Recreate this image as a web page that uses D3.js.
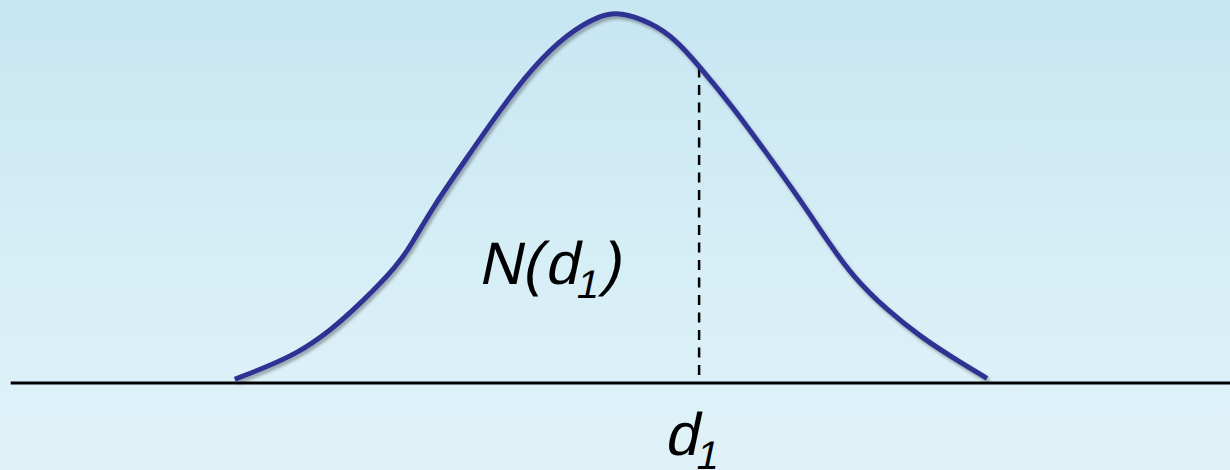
<!DOCTYPE html>
<html>
<head>
<meta charset="utf-8">
<script src="https://cdn.jsdelivr.net/npm/d3@7"></script>
<style>
	body { margin: 0; overflow: hidden; }
	svg { display: block; }
</style>
</head>
<body>
<svg id="chart"></svg>
<script>
var svg_width = 1230, svg_height = 470;

// bell curve (z units, density)
var zValues = [-3.01, -2.78, -2.51, -2.25, -1.99, -1.71, -1.59, -1.43, -1.15, -0.89,
	-0.63, -0.36, -0.09, 0.07, 0.31, 0.51, 0.71, 0.97, 1.24, 1.51,
	1.74, 1.93, 2.20, 2.47, 2.73, 3.00];
var density = [0.003, 0.015, 0.031, 0.055, 0.087, 0.126, 0.151, 0.189, 0.244, 0.295,
	0.341, 0.377, 0.398, 0.401, 0.390, 0.372, 0.341, 0.298, 0.248, 0.197,
	0.150, 0.114, 0.078, 0.049, 0.026, 0.004];

// the marked point on the axis
var d1Value = [0.70];
var d1Density = [0.341];

// extent of the horizontal axis line
var axisExtent = [-4.80, 4.95];

var curveLabel = ["N", "(", "d", "1", ")"];
var axisLabel = ["d", "1"];

var x = d3.scaleLinear().domain([-3, 3]).range([236, 987]);
var y = d3.scaleLinear().domain([0, 0.4]).range([382, 13]);

var font = "'Liberation Sans', Arial, Helvetica, sans-serif";

var svg = d3.select("#chart")
	.attr("width", svg_width)
	.attr("height", svg_height);

var defs = svg.append("defs");

var grad = defs.append("linearGradient")
	.attr("id", "bg")
	.attr("x1", 0).attr("y1", 0)
	.attr("x2", 0).attr("y2", 1);
grad.append("stop").attr("offset", "0%").attr("stop-color", "#c7e6f2");
grad.append("stop").attr("offset", "55%").attr("stop-color", "#d6eef6");
grad.append("stop").attr("offset", "100%").attr("stop-color", "#e0f2f8");

var shadow = defs.append("filter")
	.attr("id", "shadow")
	.attr("x", "-5%").attr("y", "-5%")
	.attr("width", "110%").attr("height", "110%");
shadow.append("feDropShadow")
	.attr("dx", 2).attr("dy", 3)
	.attr("stdDeviation", 1.5)
	.attr("flood-color", "#000")
	.attr("flood-opacity", 0.3);

svg.append("rect")
	.attr("width", svg_width)
	.attr("height", svg_height)
	.attr("fill", "url(#bg)");

// horizontal axis
svg.append("line")
	.attr("x1", x(axisExtent[0]))
	.attr("x2", x(axisExtent[1]))
	.attr("y1", y(0) + 1)
	.attr("y2", y(0) + 1)
	.attr("stroke", "#000")
	.attr("stroke-width", 3);

// dashed marker at d1
svg.append("line")
	.attr("x1", x(d1Value[0]))
	.attr("x2", x(d1Value[0]))
	.attr("y1", y(d1Density[0]))
	.attr("y2", y(0))
	.attr("stroke", "#000")
	.attr("stroke-width", 2.5)
	.attr("stroke-dasharray", "10,7.5");

var data = zValues.map(function (z, i) { return { z: z, p: density[i] }; });

var line = d3.line()
	.x(function (d) { return x(d.z); })
	.y(function (d) { return y(d.p); })
	.curve(d3.curveBasis);

svg.append("path")
	.datum(data)
	.attr("fill", "none")
	.attr("stroke", "#2e3192")
	.attr("stroke-width", 5)
	.attr("stroke-linejoin", "round")
	.attr("filter", "url(#shadow)")
	.attr("d", line);

// labels are regular glyphs slanted by hand, like Helvetica oblique
function slanted(px, py) {
	return svg.append("text")
		.attr("transform", "translate(" + px + "," + py + ") skewX(-12)")
		.attr("font-family", font)
		.attr("font-size", 60)
		.attr("fill", "#000");
}

// N(d1) label
var t1 = slanted(478, 284);
t1.append("tspan").text(curveLabel[0]);
t1.append("tspan").text(curveLabel[1]);
t1.append("tspan").attr("dx", 3).text(curveLabel[2]);
t1.append("tspan").attr("dy", 14).attr("font-size", 40).text(curveLabel[3]);
t1.append("tspan").attr("dy", -14).text(curveLabel[4]);

// d1 label under the axis
var t2 = slanted(664, 455);
t2.append("tspan").text(axisLabel[0]);
t2.append("tspan").attr("dy", 14).attr("font-size", 40).text(axisLabel[1]);
</script>
</body>
</html>
